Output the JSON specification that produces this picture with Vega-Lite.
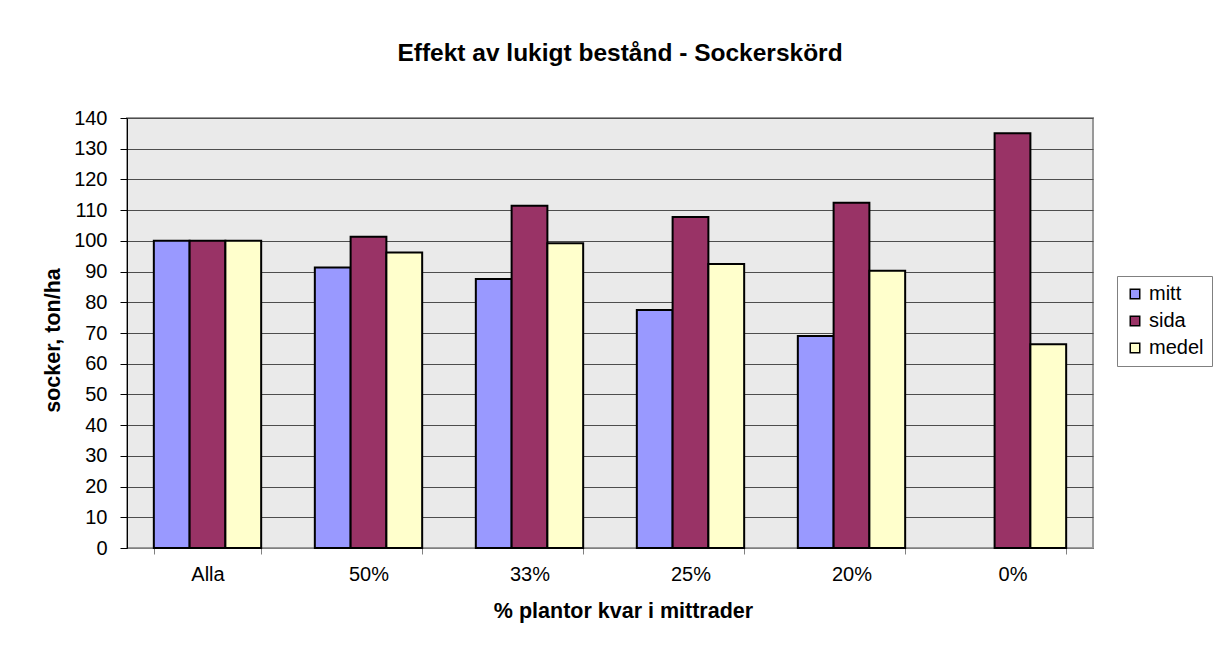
{
  "$schema": "https://vega.github.io/schema/vega-lite/v6.json",
  "autosize": {"type": "none"},
  "width": 966,
  "height": 430,
  "padding": {"left": 127, "top": 118, "right": 121, "bottom": 108},
  "background": "white",
  "title": {
    "text": "Effekt av lukigt bestånd - Sockerskörd",
    "frame": "group",
    "anchor": "middle",
    "baseline": "alphabetic",
    "offset": 23,
    "dx": 10,
    "font": "Liberation Sans",
    "fontSize": 24.5,
    "fontWeight": "bold",
    "color": "black"
  },
  "data": {
    "values": [
      {"kategori": "Alla", "serie": "mitt", "varde": 100},
      {"kategori": "Alla", "serie": "sida", "varde": 100},
      {"kategori": "Alla", "serie": "medel", "varde": 100},
      {"kategori": "50%", "serie": "mitt", "varde": 91.3},
      {"kategori": "50%", "serie": "sida", "varde": 101.3},
      {"kategori": "50%", "serie": "medel", "varde": 96.2},
      {"kategori": "33%", "serie": "mitt", "varde": 87.6},
      {"kategori": "33%", "serie": "sida", "varde": 111.4},
      {"kategori": "33%", "serie": "medel", "varde": 99.2},
      {"kategori": "25%", "serie": "mitt", "varde": 77.5},
      {"kategori": "25%", "serie": "sida", "varde": 107.8},
      {"kategori": "25%", "serie": "medel", "varde": 92.5},
      {"kategori": "20%", "serie": "mitt", "varde": 69.0},
      {"kategori": "20%", "serie": "sida", "varde": 112.4},
      {"kategori": "20%", "serie": "medel", "varde": 90.3},
      {"kategori": "0%", "serie": "sida", "varde": 135.0},
      {"kategori": "0%", "serie": "medel", "varde": 66.3}
    ]
  },
  "mark": {"type": "bar", "stroke": "black", "strokeWidth": 2},
  "encoding": {
    "x": {
      "field": "kategori",
      "type": "nominal",
      "sort": ["Alla", "50%", "33%", "25%", "20%", "0%"],
      "scale": {"paddingInner": 0.3333, "paddingOuter": 0.16667},
      "axis": {
        "title": "% plantor kvar i mittrader",
        "labelAngle": 0,
        "tickBand": "extent",
        "grid": false,
        "domainColor": "#808080",
        "domainWidth": 1,
        "tickColor": "#808080",
        "tickSize": 6,
        "labelPadding": 10,
        "titlePadding": 16,
        "titleX": 496
      }
    },
    "xOffset": {
      "field": "serie",
      "type": "nominal",
      "sort": ["mitt", "sida", "medel"],
      "scale": {"paddingInner": 0, "paddingOuter": 0}
    },
    "y": {
      "field": "varde",
      "type": "quantitative",
      "scale": {"domain": [0, 140], "nice": false},
      "axis": {
        "title": "socker, ton/ha",
        "values": [0, 10, 20, 30, 40, 50, 60, 70, 80, 90, 100, 110, 120, 130, 140],
        "grid": true,
        "gridColor": "#4d4d4d",
        "gridWidth": 1,
        "domainColor": "black",
        "domainWidth": 1,
        "tickColor": "black",
        "tickSize": 7,
        "labelPadding": 13,
        "titlePadding": 9,
        "titleY": 222
      }
    },
    "color": {
      "field": "serie",
      "type": "nominal",
      "sort": ["mitt", "sida", "medel"],
      "scale": {"domain": ["mitt", "sida", "medel"], "range": ["#9999FF", "#993366", "#FFFFCC"]},
      "legend": {
        "title": null,
        "orient": "none",
        "legendX": 990,
        "legendY": 158,
        "direction": "vertical",
        "strokeColor": "#808080",
        "padding": 8,
        "rowPadding": 7,
        "symbolType": "square",
        "symbolSize": 90,
        "symbolStrokeColor": "black",
        "symbolStrokeWidth": 1.5,
        "symbolOpacity": 1,
        "labelFont": "Liberation Sans",
        "labelFontSize": 20,
        "labelColor": "black",
        "labelOffset": 4
      }
    }
  },
  "config": {
    "view": {"fill": "#EAEAEA", "stroke": "#999999", "strokeWidth": 2},
    "axis": {
      "labelFont": "Liberation Sans",
      "labelFontSize": 20,
      "labelColor": "black",
      "titleFont": "Liberation Sans",
      "titleFontSize": 21.5,
      "titleFontWeight": "bold",
      "titleColor": "black"
    }
  }
}
